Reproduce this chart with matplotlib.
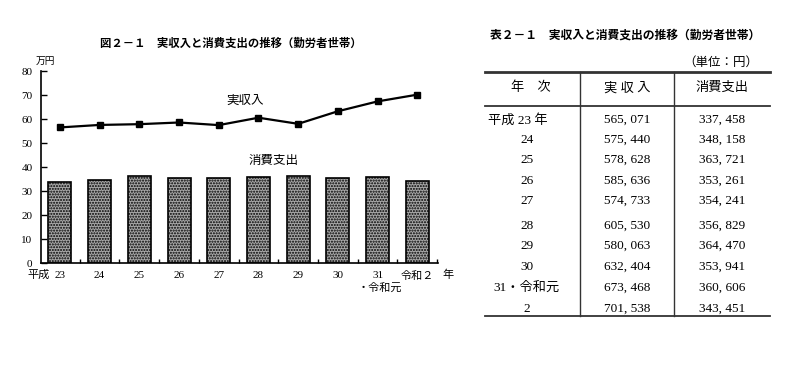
import matplotlib
matplotlib.use("Agg")
import matplotlib.pyplot as plt
import numpy as np

plt.rcParams['font.family'] = ['Liberation Serif', 'Noto Sans CJK JP', 'DejaVu Sans']

# --- data (単位：円) ---
years = ["平成 23 年", "24", "25", "26", "27", "28", "29", "30", "31・令和元", "2"]
tick_labels = ["23", "24", "25", "26", "27", "28", "29", "30", "31", "令和２"]
income = [565071, 575440, 578628, 585636, 574733, 605530, 580063, 632404, 673468, 701538]
spending = [337458, 348158, 363721, 353261, 354241, 356829, 364470, 353941, 360606, 343451]

income_man = np.array(income) / 10000
spending_man = np.array(spending) / 10000
x = np.arange(len(tick_labels))

fig = plt.figure(figsize=(8, 3.66), dpi=100)

# --- Chart: 図２－１ ---
ax = fig.add_axes([0.051, 0.281, 0.4965, 0.525])
ax.bar(x, spending_man, width=0.58, facecolor="#a8a8a8", edgecolor="black",
       linewidth=1.2, hatch="......", zorder=2)
ax.plot(x, income_man, color="black", linewidth=1.6, marker="s", markersize=4.5, zorder=3)

ax.set_xlim(-0.48, 9.52)
ax.set_ylim(0, 80)
ax.set_yticks(range(0, 81, 10))
ax.tick_params(axis="y", direction="in", length=4, width=1, labelsize=8, pad=6)
ax.set_xticks(x)
ax.set_xticklabels(tick_labels, fontsize=8)
ax.tick_params(axis="x", length=0, pad=6)
ax.set_xticks(np.arange(0.5, 10, 1), minor=True)
ax.tick_params(axis="x", which="minor", direction="in", length=3, width=1)
for s in ["top", "right"]:
    ax.spines[s].set_visible(False)
for s in ["left", "bottom"]:
    ax.spines[s].set_linewidth(1.2)

ax.text(4.66, 67.5, "実収入", ha="center", va="center", fontsize=9)
ax.text(5.37, 42.5, "消費支出", ha="center", va="center", fontsize=9)
ax.text(-0.25, -5.0, "平成", ha="right", va="center", fontsize=8)
ax.text(9.77, -5.0, "年", ha="center", va="center", fontsize=8)
ax.text(8.05, -10.2, "・令和元", ha="center", va="center", fontsize=8)
ax.text(-0.37, 82, "万円", ha="center", va="bottom", fontsize=7)

# --- overlay in pixel coordinates for titles and the table ---
ov = fig.add_axes([0, 0, 1, 1])
ov.set_xlim(0, 800)
ov.set_ylim(366, 0)
ov.axis("off")
ov.patch.set_alpha(0)

ov.text(231, 43, "図２－１　実収入と消費支出の推移（勤労者世帯）", ha="center", va="center",
        fontsize=8.2, fontweight="bold", family="Noto Sans CJK JP")
ov.text(625, 35, "表２－１　実収入と消費支出の推移（勤労者世帯）", ha="center", va="center",
        fontsize=8.5, fontweight="bold", family="Noto Sans CJK JP")
ov.text(758, 63, "（単位：円）", ha="right", va="center", fontsize=9)

left, right = 485, 770
col1, col2 = 580, 674
top, head, bottom = 72, 106, 316
ov.plot([left, right], [top, top], color="#333333", linewidth=2.0)
ov.plot([left, right], [head, head], color="#333333", linewidth=1.3)
ov.plot([left, right], [bottom, bottom], color="#333333", linewidth=1.3)
ov.plot([col1, col1], [top, bottom], color="#333333", linewidth=1.0)
ov.plot([col2, col2], [top, bottom], color="#333333", linewidth=1.0)

ov.text(531, 88, "年　次", ha="center", va="center", fontsize=9.5)
ov.text(627, 88, "実 収 入", ha="center", va="center", fontsize=9.5)
ov.text(722, 88, "消費支出", ha="center", va="center", fontsize=9.5)

row_y = [120, 140, 160, 181, 201, 226, 246, 267, 288, 309]
for i, (yr, inc, sp) in enumerate(zip(years, income, spending)):
    yy = row_y[i]
    if i == 0:
        ov.text(488, yy, yr, ha="left", va="center", fontsize=9.5)
    else:
        ov.text(527, yy, yr, ha="center", va="center", fontsize=9.5)
    ov.text(627, yy, f"{inc:,}".replace(",", ", "), ha="center", va="center", fontsize=9.5)
    ov.text(722, yy, f"{sp:,}".replace(",", ", "), ha="center", va="center", fontsize=9.5)

fig.savefig("out.png", dpi=100)
